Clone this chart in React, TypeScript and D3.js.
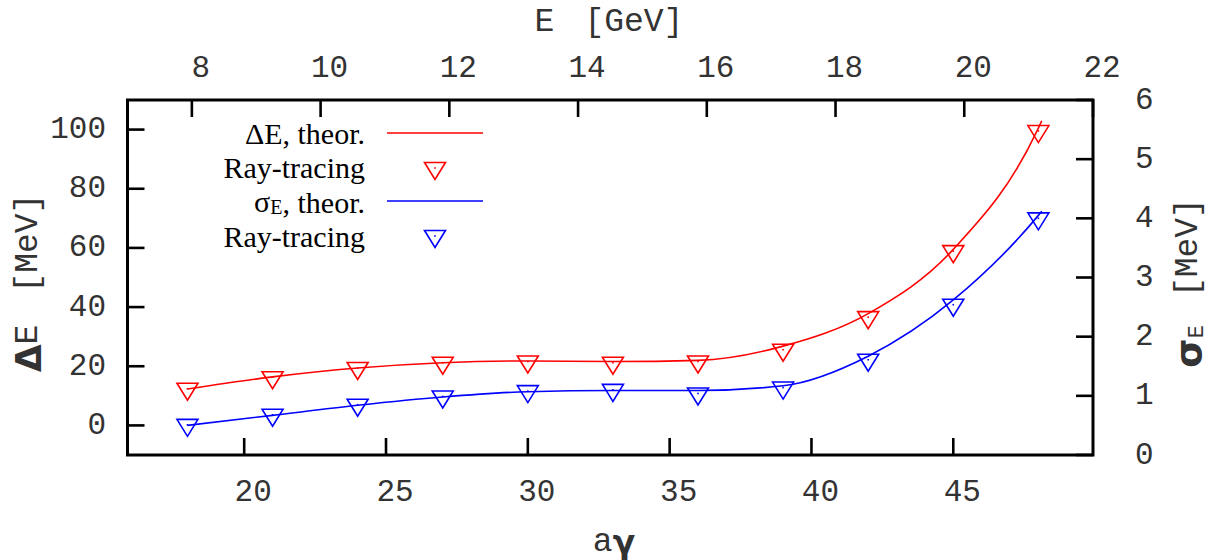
import React from 'react';
import * as d3 from 'd3';

// aγ values of the ray-tracing points
const agamma = [18, 21, 24, 27, 30, 33, 36, 39, 42, 45, 48];
// ΔE [MeV], left axis
const dERay = [12.4, 16.3, 19.4, 21.2, 21.6, 21.2, 21.6, 25.6, 36.6, 58.9, 99.5];
const dETheor = [12.3, 16.4, 19.4, 21.2, 21.8, 21.6, 22.0, 26.8, 37.8, 59.5, 100.5];
// σE [MeV], right axis
const sERay = [0.51, 0.68, 0.85, 0.99, 1.08, 1.10, 1.04, 1.14, 1.61, 2.54, 4.0];
const sETheor = [0.50, 0.67, 0.84, 0.98, 1.07, 1.09, 1.09, 1.17, 1.67, 2.62, 4.05];
const theorEndX = 48.12;
const dETheorEnd = 103;
const sETheorEnd = 4.12;

const eDomain = [7, 22]; // GeV, top axis
const gevPerAgamma = 0.44065;
const leftDomain = [-10, 110];
const rightDomain = [0, 6];

const bottomTicks = [20, 25, 30, 35, 40, 45];
const topTicks = [8, 10, 12, 14, 16, 18, 20, 22];
const leftTicks = [0, 20, 40, 60, 80, 100];
const rightTicks = [0, 1, 2, 3, 4, 5, 6];

const L = 127.5, R = 1093, T = 100, B = 455;
const MONO = '"Liberation Mono", "DejaVu Sans Mono", monospace';
const SERIF = '"Liberation Serif", "DejaVu Serif", serif';
const SANS = '"DejaVu Sans", "Liberation Sans", sans-serif';

export default function App() {
  const xE = d3.scaleLinear().domain(eDomain).range([L, R]);
  const x = d3.scaleLinear().domain([eDomain[0] / gevPerAgamma, eDomain[1] / gevPerAgamma]).range([L, R]);
  const yL = d3.scaleLinear().domain(leftDomain).range([B, T]);
  const yR = d3.scaleLinear().domain(rightDomain).range([B, T]);

  const redPts: [number, number][] = agamma.map((a, i) => [x(a), yL(dETheor[i])]);
  redPts.push([x(theorEndX), yL(dETheorEnd)]);
  const bluePts: [number, number][] = agamma.map((a, i) => [x(a), yR(sETheor[i])]);
  bluePts.push([x(theorEndX), yR(sETheorEnd)]);
  const line = d3.line().curve(d3.curveMonotoneX);

  const tri = (cx: number, cy: number, color: string, key: string) => (
    <g key={key}>
      <path d={`M${cx - 10.5},${cy - 5.5}L${cx + 10.5},${cy - 5.5}L${cx},${cy + 11.5}Z`} fill="none" stroke={color} strokeWidth={1.6} />
      <rect x={cx - 0.8} y={cy - 0.8} width={1.6} height={1.6} fill={color} />
    </g>
  );

  const tickCol = '#333';
  const fs = 31;

  return (
    <svg width={1209} height={560} style={{ position: 'absolute', left: 0, top: 0, background: '#fff' }}>
      {/* ticks */}
      <g stroke="#000" strokeWidth={2.6}>
        {bottomTicks.map(t => <line key={'b' + t} x1={x(t)} x2={x(t)} y1={B} y2={B - 17} />)}
        {topTicks.map(t => <line key={'t' + t} x1={xE(t)} x2={xE(t)} y1={T} y2={T + 17} />)}
        {leftTicks.map(t => <line key={'l' + t} x1={L} x2={L + 17} y1={yL(t)} y2={yL(t)} />)}
        {rightTicks.map(t => <line key={'r' + t} x1={R} x2={R - 17} y1={yR(t)} y2={yR(t)} />)}
      </g>
      {/* tick labels */}
      <g fontFamily={MONO} fontSize={fs} fill={tickCol}>
        {bottomTicks.map(t => <text key={'bl' + t} x={x(t) + 9} y={492} textAnchor="middle" dominantBaseline="central">{t}</text>)}
        {topTicks.map(t => <text key={'tl' + t} x={xE(t) + 9} y={68} textAnchor="middle" dominantBaseline="central">{t}</text>)}
        {leftTicks.map(t => <text key={'ll' + t} x={106} y={yL(t)} textAnchor="end" dominantBaseline="central">{t}</text>)}
        {rightTicks.map(t => <text key={'rl' + t} x={1135} y={yR(t)} textAnchor="start" dominantBaseline="central">{t}</text>)}
      </g>
      {/* axis titles */}
      <text x={609} y={22} fontFamily={MONO} fontSize={33} fill={tickCol} textAnchor="middle" dominantBaseline="central">
        <tspan>E</tspan><tspan dx={30}>[GeV]</tspan>
      </text>
      <text x={614} y={542} fontSize={33} fill={tickCol} textAnchor="middle" dominantBaseline="central">
        <tspan fontFamily={MONO}>a</tspan><tspan fontFamily={SANS} fontWeight="bold">γ</tspan>
      </text>
      <text transform="translate(28,283) rotate(-90)" fontSize={33} fill={tickCol} textAnchor="middle" dominantBaseline="central">
        <tspan fontFamily={SANS} fontWeight="bold" fontSize={36}>Δ</tspan><tspan fontFamily={MONO}>E</tspan><tspan fontFamily={MONO} dx={32}>[MeV]</tspan>
      </text>
      <text transform="translate(1188,283) rotate(-90)" fontSize={33} fill={tickCol} textAnchor="middle" dominantBaseline="central">
        <tspan fontFamily={SANS} fontWeight="bold" fontSize={38}>σ</tspan><tspan fontFamily={MONO} fontSize={22} dy={9}>E</tspan><tspan fontFamily={MONO} dy={-9} dx={28}>[MeV]</tspan>
      </text>

      {/* curves */}
      <path d={line(redPts) || ''} fill="none" stroke="#ff0000" strokeWidth={1.6} />
      <path d={line(bluePts) || ''} fill="none" stroke="#0000ff" strokeWidth={1.6} />
      {agamma.map((a, i) => tri(x(a), yL(dERay[i]), '#ff0000', 'r' + i))}
      {agamma.map((a, i) => tri(x(a), yR(sERay[i]), '#0000ff', 'b' + i))}

      {/* legend */}
      <g fontFamily={SERIF} fontSize={30} fill="#000" textAnchor="end" dominantBaseline="central">
        <text x={365} y={133}>ΔE, theor.</text>
        <text x={365} y={167.5}>Ray-tracing</text>
        <text x={365} y={201.5}>σ<tspan fontSize={20} dy={5}>E</tspan><tspan dy={-5}>, theor.</tspan></text>
        <text x={365} y={236}>Ray-tracing</text>
      </g>
      <line x1={387} x2={483} y1={133} y2={133} stroke="#ff0000" strokeWidth={1.6} />
      {tri(435, 168, '#ff0000', 'lr')}
      <line x1={387} x2={483} y1={201} y2={201} stroke="#0000ff" strokeWidth={1.6} />
      {tri(435, 236, '#0000ff', 'lb')}

      {/* frame */}
      <rect x={L} y={T} width={R - L} height={B - T} fill="none" stroke="#000" strokeWidth={3} />
    </svg>
  );
}
